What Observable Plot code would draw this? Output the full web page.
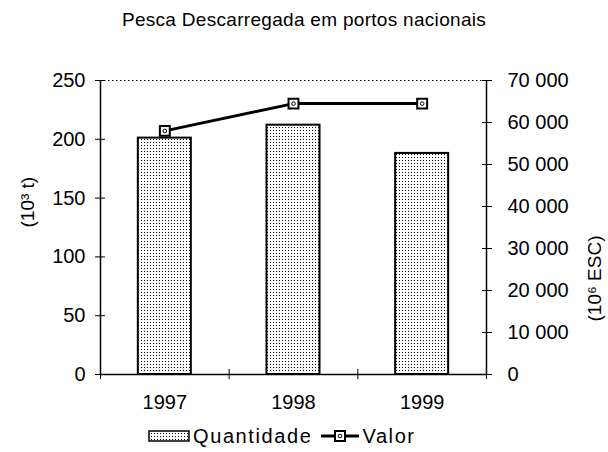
<!DOCTYPE html>
<html><head><meta charset="utf-8">
<script src="https://cdn.jsdelivr.net/npm/d3@7"></script>
<script src="https://cdn.jsdelivr.net/npm/@observablehq/plot@0.6"></script>
<style>
body{margin:0;background:#fff;font-family:"Liberation Sans",Arial,sans-serif;color:#000;}
#title{height:40px;line-height:40px;text-align:center;font-size:19px;letter-spacing:0.3px;}
#chart{height:380px;}
#legend{height:32px;display:flex;align-items:center;padding-left:148px;font-size:20px;letter-spacing:1.6px;}
#legend svg{display:block;}
</style></head><body>
<div id="title">Pesca Descarregada em portos nacionais</div>
<div id="chart"></div>
<div id="legend">
  <svg width="42" height="12"><defs><pattern id="dotsL" width="3" height="3" patternUnits="userSpaceOnUse"><rect width="3" height="3" fill="#fff"/><rect width="1" height="1" fill="#000"/></pattern></defs><rect x="1" y="1" width="40" height="10" fill="url(#dotsL)" stroke="#000" stroke-width="1.5"/></svg>
  <span style="margin-left:3px">Quantidade</span>
  <svg width="40" height="14" style="margin-left:8px"><line x1="1" y1="7" x2="39" y2="7" stroke="#000" stroke-width="3"/><rect x="15" y="2" width="10" height="10" fill="#fff" stroke="#000" stroke-width="2"/><circle cx="20" cy="7" r="1.8" fill="none" stroke="#000"/></svg>
  <span style="margin-left:2px">Valor</span>
</div>
<script>
const years = [1997, 1998, 1999];
const quantidade = [201, 212, 188];
const valor = [58000, 64500, 64500];
const leftTicks = [0, 50, 100, 150, 200, 250];
const rightTicks = [0, 10000, 20000, 30000, 40000, 50000, 60000, 70000];
const boundaries = [1996.5, 1997.5, 1998.5, 1999.5];
const leftMax = 250, rightMax = 70000;
const k = leftMax / rightMax;
const data = years.map((year, i) => ({year, q: quantidade[i], v: valor[i], vs: valor[i] * k}));
const fmt = d => d3.format(",")(d).replace(/,/g, " ");
const font = "'Liberation Sans', Arial, sans-serif";

const plot = Plot.plot({
  width: 608, height: 380,
  marginTop: 40, marginBottom: 46, marginLeft: 100, marginRight: 122,
  style: {fontFamily: font, fontSize: "20px", color: "#000", background: "#fff", overflow: "visible"},
  x: {domain: [boundaries[0], boundaries[boundaries.length - 1]], axis: null},
  y: {domain: [0, leftMax], axis: null},
  marks: [
    Plot.ruleY([leftMax], {stroke: "#000", strokeDasharray: "1.5,2.5", strokeWidth: 1.2}),
    Plot.rectY(data, {x1: d => d.year - 0.206, x2: d => d.year + 0.206, y: "q", fill: "url(#dots)", stroke: "#000", strokeWidth: 2}),
    Plot.ruleY([0], {stroke: "#000", strokeWidth: 1.5}),
    Plot.ruleX([boundaries[0], boundaries[boundaries.length - 1]], {stroke: "#000", strokeWidth: 1.5}),
    Plot.axisY(leftTicks, {anchor: "left", label: null, tickSize: 5, tickPadding: 10, fontSize: 20}),
    Plot.axisY(leftTicks, {anchor: "left", label: null, tickSize: -5, tickFormat: () => ""}),
    Plot.axisY(rightTicks.map(d => d * k), {anchor: "right", label: null, tickSize: 5, tickPadding: 16, fontSize: 20, tickFormat: d => fmt(Math.round(d / k))}),
    Plot.axisY(rightTicks.map(d => d * k), {anchor: "right", label: null, tickSize: -5, tickFormat: () => ""}),
    Plot.axisX(boundaries, {anchor: "bottom", label: null, tickSize: 5, tickFormat: () => ""}),
    Plot.axisX(boundaries, {anchor: "bottom", label: null, tickSize: -5, tickFormat: () => ""}),
    Plot.axisX(years, {anchor: "bottom", label: null, tickSize: 0, tickPadding: 20, fontSize: 20, tickFormat: d => String(d)}),
    Plot.line(data, {x: "year", y: "vs", stroke: "#000", strokeWidth: 3}),
    Plot.dot(data, {x: "year", y: "vs", symbol: "square", r: 5.6, fill: "#fff", stroke: "#000", strokeWidth: 2}),
    Plot.dot(data, {x: "year", y: "vs", r: 1.8, fill: "none", stroke: "#000", strokeWidth: 1}),
    Plot.text(["(10³ t)"], {frameAnchor: "left", dx: -73, rotate: -90, fontSize: 19}),
    Plot.text(["(10⁶ ESC)"], {frameAnchor: "right", dx: 108, dy: 8, rotate: -90, fontSize: 19})
  ]
});
plot.insertAdjacentHTML("afterbegin", `<defs><pattern id="dots" width="3" height="3" patternUnits="userSpaceOnUse"><rect width="3" height="3" fill="#fff"/><rect width="1" height="1" fill="#000"/></pattern></defs>`);
document.getElementById("chart").appendChild(plot);
</script>
</body></html>
